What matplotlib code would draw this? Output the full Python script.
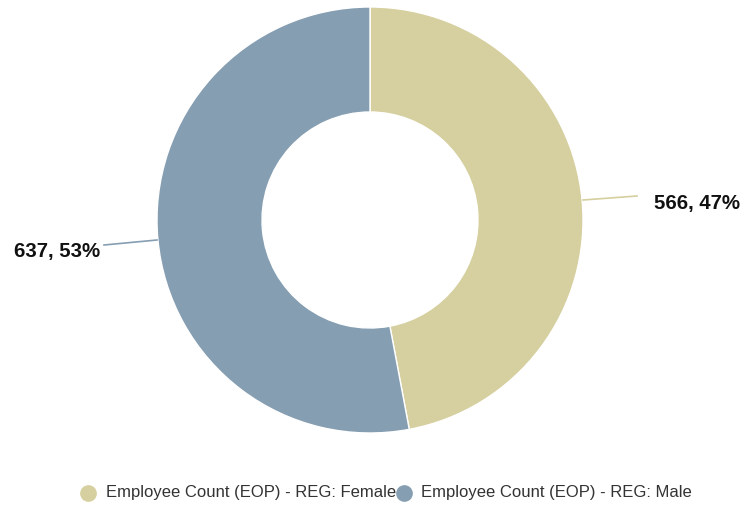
import matplotlib.pyplot as plt
import numpy as np

plt.rcParams['font.family'] = ['Liberation Sans', 'DejaVu Sans']

# Donnees
categories = ['Employee Count (EOP) - REG: Female', 'Employee Count (EOP) - REG: Male']
valeurs = [566, 637]
couleurs = ['#d6cf9f', '#869eb2']

W, H = 744, 508
fig = plt.figure(figsize=(W / 100, H / 100), dpi=100)
ax = fig.add_axes([0, 0, 1, 1])

cx, cy = 370, H - 220
R = 213
wedges, _ = ax.pie(valeurs, colors=couleurs, startangle=90, counterclock=False,
                   center=(cx, cy), radius=R,
                   wedgeprops=dict(width=105, edgecolor='white', linewidth=1))

# pie() change les limites, on les remet en pixels
ax.set_xlim(0, W)
ax.set_ylim(0, H)
ax.set_aspect('equal')
ax.axis('off')

# Etiquettes avec lignes de rappel
total = sum(valeurs)
pos_lignes = [((583, 200), (637, 196), 654, 'left'),
              ((157, 240), (104, 245), 100, 'right')]
for v, c, (p0, p1, tx, ha) in zip(valeurs, couleurs, pos_lignes):
    ax.plot([p0[0], p1[0]], [H - p0[1], H - p1[1]], color=c, lw=1.2)
    ty = p1[1] + 7
    ax.text(tx, H - ty, '%d, %d%%' % (v, round(100 * v / total)),
            ha=ha, va='center', fontsize=14.7, fontweight='bold', color='#111111')

# Legende
leg = [(88, 106), (404, 421)]
for (mx, tx), c, lab in zip(leg, couleurs, categories):
    ax.plot(mx, H - 493, 'o', color=c, markersize=11)
    ax.text(tx, H - 493, lab, ha='left', va='center', fontsize=12, color='#333333')

fig.savefig('out.png', dpi=100)
